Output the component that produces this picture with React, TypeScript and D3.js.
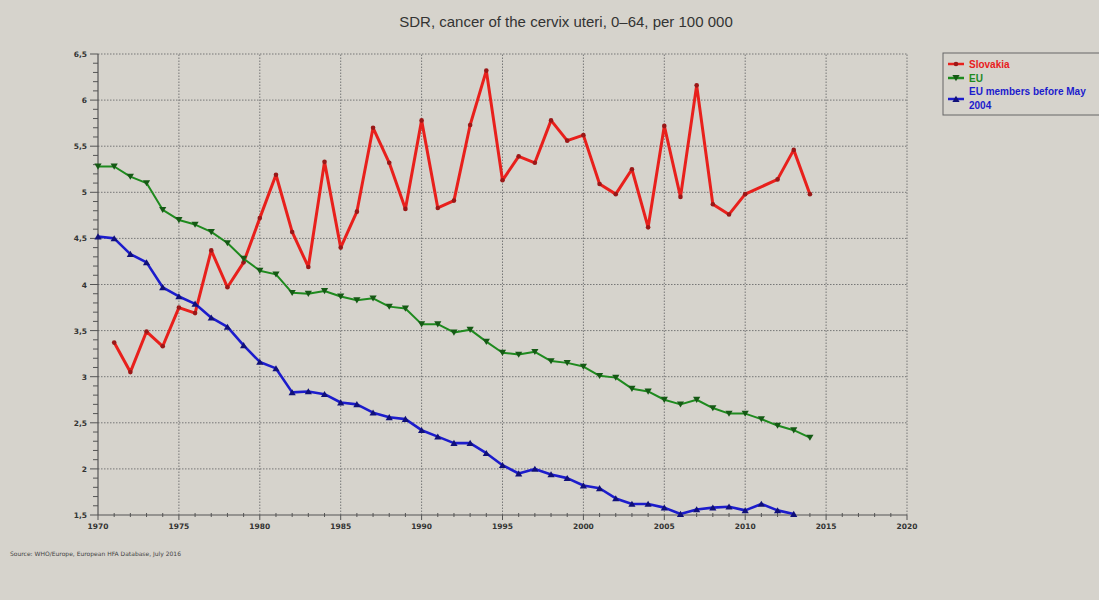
import React from "react";
import * as d3 from "d3";

const width = 1099;
const height = 600;
const margin = { top: 54, right: 192, bottom: 85, left: 98 };

const slovakiaYears = [1971, 1972, 1973, 1974, 1975, 1976, 1977, 1978, 1979, 1980, 1981, 1982, 1983, 1984, 1985, 1986, 1987, 1988, 1989, 1990, 1991, 1992, 1993, 1994, 1995, 1996, 1997, 1998, 1999, 2000, 2001, 2002, 2003, 2004, 2005, 2006, 2007, 2008, 2009, 2010, 2012, 2013, 2014];
const slovakia = [3.37, 3.05, 3.49, 3.33, 3.75, 3.69, 4.37, 3.97, 4.24, 4.72, 5.19, 4.57, 4.19, 5.33, 4.4, 4.79, 5.7, 5.32, 4.82, 5.78, 4.83, 4.91, 5.73, 6.32, 5.13, 5.39, 5.32, 5.78, 5.56, 5.62, 5.09, 4.98, 5.25, 4.62, 5.72, 4.95, 6.16, 4.87, 4.76, 4.98, 5.14, 5.46, 4.98];

const euYears = d3.range(1970, 2015);
const eu = [5.28, 5.28, 5.17, 5.1, 4.81, 4.7, 4.65, 4.57, 4.45, 4.28, 4.15, 4.11, 3.91, 3.9, 3.93, 3.87, 3.83, 3.85, 3.76, 3.74, 3.57, 3.57, 3.48, 3.51, 3.38, 3.26, 3.24, 3.27, 3.17, 3.15, 3.11, 3.01, 2.99, 2.87, 2.84, 2.75, 2.7, 2.75, 2.66, 2.6, 2.6, 2.54, 2.47, 2.42, 2.34];

const eu15Years = d3.range(1970, 2014);
const eu15 = [4.52, 4.5, 4.33, 4.24, 3.97, 3.87, 3.79, 3.64, 3.54, 3.34, 3.16, 3.09, 2.83, 2.84, 2.81, 2.72, 2.7, 2.61, 2.56, 2.54, 2.42, 2.35, 2.28, 2.28, 2.17, 2.04, 1.95, 2.0, 1.94, 1.9, 1.82, 1.79, 1.68, 1.62, 1.62, 1.58, 1.51, 1.56, 1.58, 1.59, 1.55, 1.62, 1.55, 1.51];

const xTicks = [1970, 1975, 1980, 1985, 1990, 1995, 2000, 2005, 2010, 2015, 2020];
const yTicks = [1.5, 2, 2.5, 3, 3.5, 4, 4.5, 5, 5.5, 6, 6.5];

const series = [
  { name: "Slovakia", years: slovakiaYears, values: slovakia, color: "#e8201c", marker: "#9a1818", width: 3, symbol: "circle" },
  { name: "EU", years: euYears, values: eu, color: "#1e8a1e", marker: "#155a15", width: 2, symbol: "down" },
  { name: "EU members before May 2004", years: eu15Years, values: eu15, color: "#1c1ccc", marker: "#10107a", width: 2.6, symbol: "up" },
];

const x = d3.scaleLinear().domain([1970, 2020]).range([margin.left, width - margin.right]);
const y = d3.scaleLinear().domain([1.5, 6.5]).range([height - margin.bottom, margin.top]);

function Marker({ cx, cy, symbol, fill }: { cx: number; cy: number; symbol: string; fill: string }) {
  if (symbol === "circle") return <circle cx={cx} cy={cy} r={2.3} fill={fill} />;
  const s = 3.6;
  const pts =
    symbol === "down"
      ? `${cx - s},${cy - s * 0.8} ${cx + s},${cy - s * 0.8} ${cx},${cy + s * 0.9}`
      : `${cx - s},${cy + s * 0.8} ${cx + s},${cy + s * 0.8} ${cx},${cy - s * 0.9}`;
  return <polygon points={pts} fill={fill} />;
}

export default function App() {
  const x0 = margin.left;
  const x1 = width - margin.right;
  const y0 = height - margin.bottom;
  const y1 = margin.top;
  const fmt = (v: number) => String(v).replace(".", ",");
  const line = d3.line<[number, number]>().x((d) => x(d[0])).y((d) => y(d[1]));

  return (
    <div style={{ position: "fixed", left: 0, top: 0, width, height }}>
      <svg width={width} height={height} style={{ display: "block" }}>
        <rect width={width} height={height} fill="#d6d3cc" />
        <text x={566} y={27} textAnchor="middle" fontFamily="Liberation Sans, Arial, sans-serif" fontSize={15} fill="#333">
          SDR, cancer of the cervix uteri, 0–64, per 100 000
        </text>

        {/* grid */}
        {xTicks.slice(1).map((t) => (
          <line key={"gx" + t} x1={x(t)} x2={x(t)} y1={y0} y2={y1} stroke="#777" strokeWidth={1} strokeDasharray="1.5,1.5" />
        ))}
        {yTicks.slice(1).map((t) => (
          <line key={"gy" + t} x1={x0} x2={x1} y1={y(t)} y2={y(t)} stroke="#777" strokeWidth={1} strokeDasharray="1.5,1.5" />
        ))}

        {/* axes */}
        <line x1={x0} x2={x0} y1={y1} y2={y0} stroke="#555" strokeWidth={1.2} />
        <line x1={x0} x2={x1} y1={y0} y2={y0} stroke="#555" strokeWidth={1.2} />
        {d3.range(15, 66).map((v) => {
          const major = v % 5 === 0;
          return <line key={"yt" + v} x1={x0 - (major ? 8 : 5)} x2={x0} y1={y(v / 10)} y2={y(v / 10)} stroke="#555" strokeWidth={1} />;
        })}
        {d3.range(1970, 2021).map((v) => {
          const major = v % 5 === 0;
          return <line key={"xt" + v} x1={x(v)} x2={x(v)} y1={y0 - (major ? 0 : 2)} y2={y0 + (major ? 5 : 2)} stroke="#555" strokeWidth={1} />;
        })}
        {yTicks.map((t) => (
          <text key={"yl" + t} x={x0 - 11} y={y(t) + 3} textAnchor="end" fontFamily="DejaVu Sans, sans-serif" fontWeight="bold" fontSize={7.5} fill="#333">
            {fmt(t)}
          </text>
        ))}
        {xTicks.map((t) => (
          <text key={"xl" + t} x={x(t)} y={y0 + 14} textAnchor="middle" fontFamily="DejaVu Sans, sans-serif" fontWeight="bold" fontSize={7.5} fill="#333">
            {t}
          </text>
        ))}

        {/* series */}
        {series.map((s) => {
          const pts = s.years.map((yr, i) => [yr, s.values[i]] as [number, number]);
          return (
            <g key={s.name}>
              <path d={line(pts) || ""} fill="none" stroke={s.color} strokeWidth={s.width} strokeLinejoin="round" />
              {pts.map((p) => (
                <Marker key={p[0]} cx={x(p[0])} cy={y(p[1])} symbol={s.symbol} fill={s.marker} />
              ))}
            </g>
          );
        })}

        {/* legend */}
        <rect x={943} y={53} width={160} height={62} fill="none" stroke="#666" strokeWidth={1} />
        {series.map((s, i) => {
          const ly = [64, 78, 99][i];
          return (
            <g key={"lg" + s.name}>
              <line x1={948} x2={964} y1={ly} y2={ly} stroke={s.color} strokeWidth={2.5} />
              <Marker cx={956} cy={ly} symbol={s.symbol} fill={s.marker} />
              {i < 2 ? (
                <text x={969} y={ly + 3.5} fontFamily="Liberation Sans, Arial, sans-serif" fontWeight="bold" fontSize={10} fill={s.color}>
                  {s.name}
                </text>
              ) : (
                <text x={969} y={ly - 4} fontFamily="Liberation Sans, Arial, sans-serif" fontWeight="bold" fontSize={10} fill={s.color}>
                  <tspan x={969}>EU members before May</tspan>
                  <tspan x={969} dy={14}>2004</tspan>
                </text>
              )}
            </g>
          );
        })}

        <text x={10} y={556} fontFamily="DejaVu Sans, sans-serif" fontSize={6} fill="#444">
          Source: WHO/Europe, European HFA Database, July 2016
        </text>
      </svg>
    </div>
  );
}
